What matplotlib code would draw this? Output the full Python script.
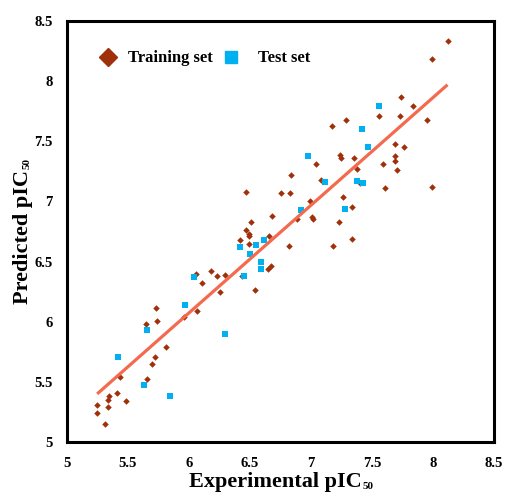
import matplotlib
matplotlib.use("Agg")
import matplotlib.pyplot as plt
from matplotlib.lines import Line2D

plt.rcParams['font.family'] = ['Liberation Serif', 'DejaVu Serif']

train_x = [5.73, 5.65, 5.74, 6.26, 6.07, 5.96, 5.81, 5.72, 5.70, 5.66,
           5.44, 5.41, 5.35, 5.34, 5.34, 5.49, 5.25, 5.25, 5.31, 6.47,
           6.76, 6.83, 6.99, 7.01, 7.02, 6.89, 6.68, 6.51, 6.47, 6.49,
           6.49, 6.42, 6.49, 6.66, 6.82, 6.65, 6.67, 6.18, 6.23, 6.30,
           6.06, 6.11, 6.44, 6.54, 7.74, 7.56, 7.73, 7.17, 7.29, 7.69,
           7.76, 7.69, 7.69, 7.71, 7.59, 7.61, 7.24, 7.25, 7.35, 7.38,
           7.04, 7.08, 7.40, 7.26, 7.34, 7.23, 7.34, 7.18, 8.12, 7.99,
           7.84, 7.95, 7.99, 6.84]
train_y = [6.11, 5.98, 6.01, 6.25, 6.09, 6.04, 5.79, 5.71, 5.65, 5.52,
           5.54, 5.41, 5.38, 5.35, 5.29, 5.34, 5.31, 5.24, 5.15, 7.08,
           7.07, 7.07, 7.00, 6.87, 6.85, 6.85, 6.88, 6.83, 6.76, 6.73,
           6.71, 6.68, 6.65, 6.71, 6.63, 6.44, 6.46, 6.42, 6.38, 6.39,
           6.40, 6.32, 6.38, 6.26, 7.87, 7.71, 7.71, 7.63, 7.68, 7.48,
           7.45, 7.38, 7.34, 7.26, 7.31, 7.11, 7.39, 7.36, 7.36, 7.27,
           7.31, 7.18, 7.15, 7.04, 6.95, 6.83, 6.69, 6.63, 8.33, 8.18,
           7.79, 7.68, 7.12, 7.22]

test_x = [5.97, 5.66, 5.42, 5.63, 5.85, 6.30, 6.42, 6.55, 6.62, 6.50,
          6.59, 6.59, 6.45, 6.92, 7.12, 7.56, 7.42, 7.47, 6.98, 7.38,
          7.43, 7.28, 6.04]
test_y = [6.14, 5.93, 5.71, 5.47, 5.38, 5.90, 6.62, 6.64, 6.68, 6.56,
          6.50, 6.44, 6.38, 6.93, 7.16, 7.79, 7.60, 7.45, 7.38, 7.17,
          7.15, 6.94, 6.37]

fit_x = [5.25, 8.12]
fit_y = [5.40, 7.97]

x_ticks = [5, 5.5, 6, 6.5, 7, 7.5, 8, 8.5]
y_ticks = [5, 5.5, 6, 6.5, 7, 7.5, 8, 8.5]
tick_labels = ['5', '5.5', '6', '6.5', '7', '7.5', '8', '8.5']

train_color = '#A0300A'
test_color = '#00B0F0'
line_color = '#F46A4E'

fig = plt.figure(figsize=(5.05, 4.93), dpi=100)
ax = fig.add_axes([0.132, 0.1034, 0.846, 0.854])

ax.scatter(train_x, train_y, marker='D', s=11, color=train_color, linewidths=0, zorder=2)
ax.scatter(test_x, test_y, marker='s', s=24, color=test_color, linewidths=0, zorder=3)
ax.plot(fit_x, fit_y, color=line_color, lw=2.3, solid_capstyle='butt', zorder=4)

ax.set_xlim(5, 8.5)
ax.set_ylim(5, 8.5)
ax.set_xticks(x_ticks)
ax.set_xticklabels(tick_labels)
ax.set_yticks(y_ticks)
ax.set_yticklabels(tick_labels)
ax.tick_params(length=0, labelsize=10.5)
ax.tick_params(axis='x', pad=11)
ax.tick_params(axis='y', pad=10)
for lab in ax.get_xticklabels() + ax.get_yticklabels():
    lab.set_fontweight('bold')

for sp in ax.spines.values():
    sp.set_linewidth(2.2)
    sp.set_color('black')

# axis titles with small "50" subscript
xl = ax.set_xlabel('Experimental pIC', fontsize=16, fontweight='bold')
xl.set_va('baseline')
ax.xaxis.set_label_coords(0.488, -0.108)
yl = ax.set_ylabel('Predicted pIC', fontsize=16, fontweight='bold')
yl.set_va('center')
ax.yaxis.set_label_coords(-0.102, 0.488)

ax.annotate('50', xy=(1, 0), xycoords=xl, xytext=(0.6, 2.6), textcoords='offset points',
            ha='left', va='baseline', fontsize=8, fontweight='bold',
            annotation_clip=False)
ax.annotate('50', xy=(1, 1), xycoords=yl, xytext=(-2.6, 0.6), textcoords='offset points',
            ha='left', va='baseline', rotation=90, rotation_mode='anchor',
            fontsize=8, fontweight='bold', annotation_clip=False)

handles = [
    Line2D([], [], marker='D', linestyle='none', markersize=9.5, color=train_color),
    Line2D([], [], marker='s', linestyle='none', markersize=8.5, color=test_color),
]
ax.legend(handles, ['Training set', '  Test set'], loc='upper left',
          bbox_to_anchor=(0.0745, 0.930), ncol=2, frameon=False,
          prop={'family': 'Liberation Serif', 'weight': 'bold', 'size': 12},
          handlelength=1.2, handletextpad=0.55, columnspacing=0.5,
          borderpad=0, borderaxespad=0)

fig.savefig('out.png', dpi=100)
